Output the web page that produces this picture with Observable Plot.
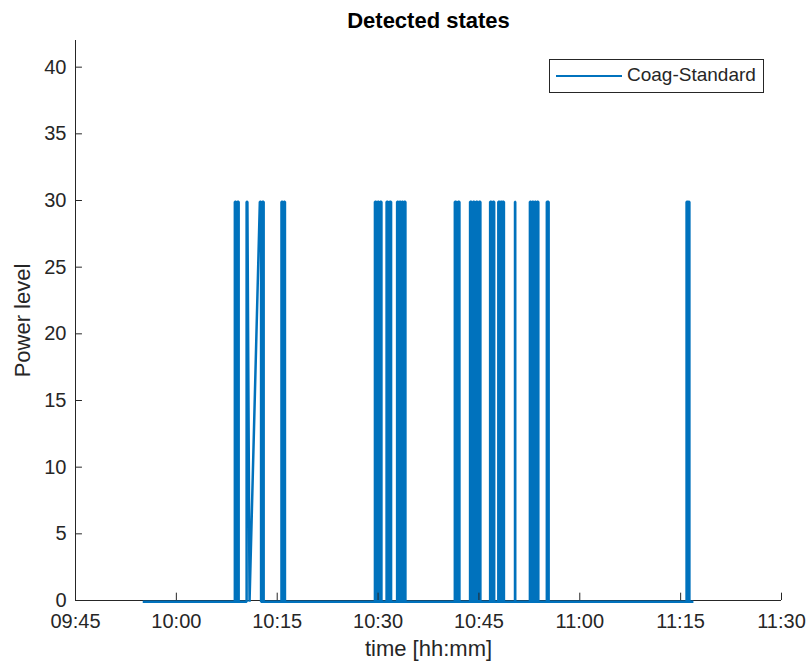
<!DOCTYPE html>
<html>
<head>
<meta charset="utf-8">
<script src="https://cdn.jsdelivr.net/npm/d3@7"></script>
<script src="https://cdn.jsdelivr.net/npm/@observablehq/plot@0.6"></script>
<style>
  html, body { margin: 0; padding: 0; background: #fff; }
  #wrap { position: relative; width: 810px; height: 666px; font-family: "Liberation Sans", Arial, Helvetica, sans-serif; }
  #legend { position: absolute; left: 549px; top: 59px; width: 213px; height: 32px; border: 1px solid #262626; background: #fff; }
  #legend .swatch { position: absolute; left: 6px; top: 15px; width: 66px; height: 2px; background: #0072BD; }
  #legend .lbl { position: absolute; left: 77px; top: 4px; font-size: 19px; color: #262626; white-space: nowrap; }
</style>
</head>
<body>
<div id="wrap"><div id="legend"><div class="swatch"></div><div class="lbl">Coag-Standard</div></div></div>
<script>
// ---- data ----
const title = "Detected states";
const xLabel = "time [hh:mm]";
const yLabel = "Power level";
const seriesName = "Coag-Standard";

// samples of the detected power level trace, in recording order
const sampleTimes = [
  "09:55:00",
  "10:08:42","10:08:42","10:08:53","10:08:53",
  "10:09:05","10:09:05","10:09:16","10:09:16",
  "10:10:27","10:10:27","10:10:34","10:10:53",
  "10:12:25","10:12:36","10:12:36",
  "10:12:47","10:12:47","10:12:59","10:12:59",
  "10:15:38","10:15:38","10:15:48","10:15:48",
  "10:15:59","10:15:59","10:16:09","10:16:09",
  "10:29:32","10:29:32","10:29:44","10:29:44",
  "10:29:56","10:29:56","10:30:07","10:30:07",
  "10:30:18","10:30:18","10:30:30","10:30:30",
  "10:31:16","10:31:16","10:31:29","10:31:29",
  "10:31:43","10:31:43","10:31:56","10:31:56",
  "10:32:50","10:32:50","10:33:01","10:33:01",
  "10:33:11","10:33:11","10:33:22","10:33:22",
  "10:33:32","10:33:32","10:33:43","10:33:43",
  "10:33:53","10:33:53","10:34:04","10:34:04",
  "10:41:25","10:41:25","10:41:38","10:41:38",
  "10:41:53","10:41:53","10:42:06","10:42:06",
  "10:43:41","10:43:41","10:43:54","10:43:54",
  "10:44:07","10:44:07","10:44:20","10:44:20",
  "10:44:34","10:44:34","10:44:47","10:44:47",
  "10:45:00","10:45:00","10:45:13","10:45:13",
  "10:46:40","10:46:40","10:46:52","10:46:52",
  "10:47:04","10:47:04","10:47:16","10:47:16",
  "10:47:53","10:47:53","10:48:05","10:48:05",
  "10:48:13","10:48:13","10:48:25","10:48:25",
  "10:48:31","10:48:31","10:48:43","10:48:43",
  "10:50:22","10:50:22","10:50:24","10:50:24",
  "10:52:35","10:52:35","10:52:46","10:52:46",
  "10:52:56","10:52:56","10:53:07","10:53:07",
  "10:53:18","10:53:18","10:53:29","10:53:29",
  "10:53:39","10:53:39","10:53:50","10:53:50",
  "10:55:06","10:55:06","10:55:22","10:55:22",
  "11:15:53","11:15:53","11:16:04","11:16:04",
  "11:16:10","11:16:10","11:16:18","11:16:18",
  "11:16:54"
];
const sampleLevels = [
  0,
  0,30,30,0,
  0,30,30,0,
  0,30,30,0,
  30,30,0,
  0,30,30,0,
  0,30,30,0,
  0,30,30,0,
  0,30,30,0,
  0,30,30,0,
  0,30,30,0,
  0,30,30,0,
  0,30,30,0,
  0,30,30,0,
  0,30,30,0,
  0,30,30,0,
  0,30,30,0,
  0,30,30,0,
  0,30,30,0,
  0,30,30,0,
  0,30,30,0,
  0,30,30,0,
  0,30,30,0,
  0,30,30,0,
  0,30,30,0,
  0,30,30,0,
  0,30,30,0,
  0,30,30,0,
  0,30,30,0,
  0,30,30,0,
  0,30,30,0,
  0,30,30,0,
  0,30,30,0,
  0,30,30,0,
  0,30,30,0,
  0,30,30,0,
  0,30,30,0,
  0
];

const xTickLabels = ["09:45","10:00","10:15","10:30","10:45","11:00","11:15","11:30"];
const yTickValues = [0,5,10,15,20,25,30,35,40];
const yMax = 42;

// ---- build ----
const toDate = s => { const [h,m,sec] = s.split(":").map(Number); return new Date(2020, 0, 1, h, m, sec || 0); };
const data = sampleTimes.map((t, i) => ({t: toDate(t), v: sampleLevels[i]}));
const xTicks = xTickLabels.map(toDate);
const xMin = xTicks[0], xMax = xTicks[xTicks.length - 1];
const tickLenX = new Date(xMin.getTime() + 62 * 1000);
const ink = "#262626";
const blue = "#0072BD";
const fmt = d3.timeFormat("%H:%M");
const font = '"Liberation Sans", Arial, Helvetica, sans-serif';

const chart = Plot.plot({
  width: 810,
  height: 666,
  marginLeft: 75,
  marginRight: 29,
  marginTop: 40,
  marginBottom: 66,
  style: {fontFamily: font, color: ink, background: "#fff", overflow: "visible"},
  x: {type: "time", domain: [xMin, xMax]},
  y: {domain: [0, yMax]},
  marks: [
    Plot.ruleY([0], {stroke: ink, strokeWidth: 1}),
    Plot.ruleX([xMin], {stroke: ink, strokeWidth: 1}),
    Plot.line(data, {x: "t", y: "v", dy: 1.2, stroke: blue, strokeWidth: 2.5, strokeLinejoin: "miter", strokeLinecap: "butt"}),
    Plot.ruleX(xTicks, {x: d => d, y1: 0, y2: 0.55, stroke: ink}),
    Plot.ruleY(yTickValues, {y: d => d, x1: xMin, x2: tickLenX, stroke: ink}),
    Plot.axisX({ticks: xTicks, tickSize: 0, tickPadding: 13, tickFormat: fmt, label: null, fontSize: 20, fill: ink}),
    Plot.axisY({ticks: yTickValues, tickSize: 0, tickPadding: 9, label: null, fontSize: 20, fill: ink}),
    Plot.text([xLabel], {text: d => d, frameAnchor: "bottom", dy: 55, fontSize: 22, fill: ink}),
    Plot.text([yLabel], {text: d => d, frameAnchor: "left", textAnchor: "middle", dx: -53, rotate: -90, fontSize: 22, fill: ink}),
    Plot.text([title], {text: d => d, frameAnchor: "top", dy: -13, lineAnchor: "bottom", fontSize: 22, fontWeight: "bold", fill: "#000"})
  ]
});
document.getElementById("wrap").prepend(chart);
</script>
</body>
</html>
